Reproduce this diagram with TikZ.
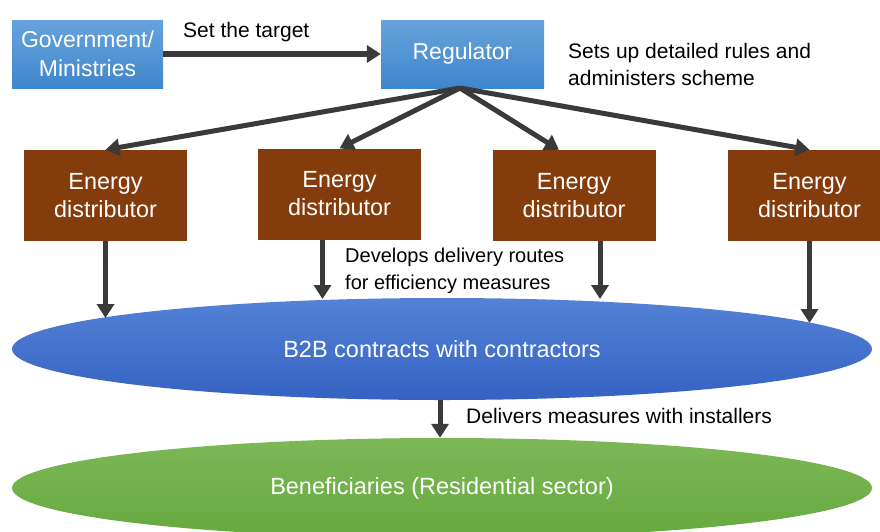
\documentclass[tikz,border=0pt]{standalone}
\usepackage{fontspec}
\setmainfont{Liberation Sans}
\usetikzlibrary{arrows.meta,shapes.geometric}
\definecolor{boxblueT}{HTML}{67A3DC}
\definecolor{boxblueB}{HTML}{3F86CC}
\definecolor{brownbox}{HTML}{843C0C}
\definecolor{ellblueT}{HTML}{5482D6}
\definecolor{ellblueB}{HTML}{3562C2}
\definecolor{ellgreenT}{HTML}{7DB857}
\definecolor{ellgreenB}{HTML}{66A93E}
\definecolor{arrowgray}{HTML}{3A3A3A}
\tikzset{
  bluebox/.style={rectangle, top color=boxblueT, bottom color=boxblueB, draw=none,
    text=white, font=\fontsize{23}{29}\selectfont, align=center, minimum width=163pt, minimum height=68pt, inner sep=0pt},
  brownbox/.style={rectangle, fill=brownbox, draw=none, text=white,
    font=\fontsize{23.4}{28}\selectfont, align=center, minimum width=163pt, minimum height=91pt, inner sep=0pt},
  bigell/.style={ellipse, draw=none, text=white, font=\fontsize{23.5}{26}\selectfont,
    minimum width=860pt, minimum height=102pt, inner sep=0pt},
  arr/.style={draw=arrowgray, line width=5pt, -{Triangle[length=14pt,width=17pt]}},
  lbl/.style={text=black, font=\fontsize{21}{27}\selectfont, align=left, inner sep=0pt}
}
\begin{document}
\begin{tikzpicture}[x=1pt,y=-1pt]
\useasboundingbox (0,0) rectangle (880,531);
\node[bluebox, minimum width=151pt] (gov) at (87.5,54) {Government/\\Ministries};
\node[bluebox] (reg) at (462.5,54) {Regulator};
\node[brownbox] (ed1) at (105.5,195.5) {Energy\\distributor};
\node[brownbox] (ed2) at (339.5,194) {Energy\\distributor};
\node[brownbox] (ed3) at (574,195.5) {Energy\\distributor};
\node[brownbox] (ed4) at (809.5,195.5) {Energy\\distributor};
\node[bigell, top color=ellblueT, bottom color=ellblueB] (b2b) at (442,349) {B2B contracts with contractors};
\node[bigell, top color=ellgreenT, bottom color=ellgreenB, minimum height=100pt] (ben) at (442,488) {Beneficiaries (Residential sector)};
\coordinate (apex) at (460,88);
\draw[arr, line width=6pt] (gov.east) -- (reg.west);
\node[lbl, anchor=west] (settarget) at (183,32) {Set the target};
\node[lbl, anchor=west] (rules) at (568,64) {Sets up detailed rules and\\administers scheme};
\draw[arr] (apex) -- (ed1.north);
\draw[arr] (apex) -- (ed2.north);
\draw[arr] (apex) -- ([xshift=-15pt]ed3.north);
\draw[arr] (apex) -- (ed4.north);
\draw[arr] (ed1.south) -- (ed1.south |- 0,318);
\draw[arr] ([xshift=-17pt]ed2.south) -- ([xshift=-17pt]ed2.south |- 0,299);
\draw[arr] ([xshift=26pt]ed3.south) -- ([xshift=26pt]ed3.south |- 0,299);
\draw[arr] (ed4.south) -- (ed4.south |- 0,323);
\node[lbl, anchor=west, font=\fontsize{20}{27}\selectfont] (develops) at (345,271) {Develops delivery routes\\for efficiency measures};
\draw[arr] (b2b.south -| 440,0) -- (ben.north -| 440,0);
\node[lbl, anchor=west] (delivers) at (466,416) {Delivers measures with installers};
\end{tikzpicture}
\end{document}
